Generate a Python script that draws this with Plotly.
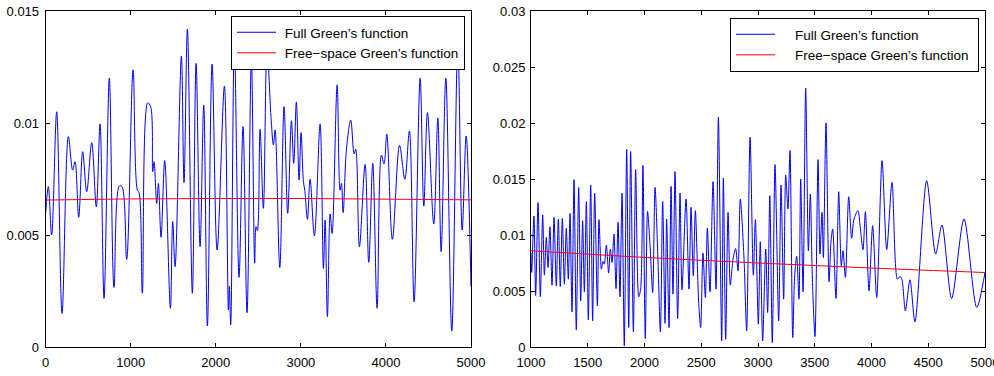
import plotly.graph_objects as go

# ---------------- Left panel data ----------------
left_x = [0, 31, 70, 129, 192, 266, 317, 345, 388, 435, 482, 541, 595, 639, 686, 748, 803, 866, 897, 952,
          1027, 1078, 1097, 1136, 1199, 1234, 1258, 1274, 1305, 1325, 1356, 1399, 1466, 1493, 1521, 1595,
          1626, 1666, 1724, 1768, 1815, 1858, 1901, 1956, 2015, 2101, 2148, 2159, 2175, 2218, 2273, 2320,
          2367, 2418, 2457, 2473, 2489, 2520, 2559, 2602, 2648, 2677, 2697, 2752, 2802, 2845, 2889, 2916,
          2947, 2979, 3002, 3030, 3046, 3077, 3108, 3159, 3226, 3265, 3285, 3312, 3344, 3367, 3426, 3461,
          3477, 3497, 3535, 3586, 3626, 3645, 3688, 3755, 3798, 3845, 3896, 3947, 3978, 4010, 4076, 4160,
          4222, 4276, 4331, 4402, 4445, 4488, 4562, 4610, 4649, 4704, 4774, 4845, 4896, 4943, 5000]
left_full = [6.0, 7.16, 5.0, 10.5, 1.5, 9.39, 7.9, 8.27, 5.79, 8.72, 6.93, 9.12, 6.26, 9.96, 2.17, 12.0, 2.66,
             7.19, 7.16, 3.91, 12.37, 7.0, 6.9, 2.4, 10.9, 10.73, 7.83, 8.27, 6.41, 7.3, 4.9, 8.32, 1.73, 5.6,
             3.59, 12.99, 7.34, 14.2, 2.4, 12.66, 4.48, 10.8, 0.94, 12.63, 4.33, 11.65, 1.65, 2.72, 0.98,
             13.56, 3.11, 9.84, 1.53, 12.89, 3.74, 5.37, 5.2, 9.72, 6.19, 13.41, 10.3, 9.02, 9.69, 3.55,
             10.73, 5.97, 10.1, 8.2, 10.94, 7.46, 9.57, 7.38, 7.0, 5.7, 7.49, 4.96, 9.96, 3.51, 5.67, 1.35,
             5.94, 5.07, 11.7, 7.0, 7.3, 6.0, 8.79, 10.13, 8.62, 8.83, 4.48, 8.15, 3.78, 8.2, 1.73, 8.57,
             8.17, 9.51, 4.81, 9.0, 7.49, 9.64, 2.02, 12.0, 6.29, 10.46, 5.49, 10.22, 4.26, 12.0, 0.71, 13.5,
             5.22, 9.42, 2.69]
left_free_x = [0, 1000, 2000, 3000, 4000, 5000]
left_free = [6.56, 6.61, 6.63, 6.63, 6.60, 6.57]

# ---------------- Right panel data ----------------
right_x = [1000, 1006, 1026, 1041, 1062, 1082, 1103, 1118, 1135, 1150, 1167, 1185, 1203, 1223, 1241, 1258,
           1276, 1294, 1311, 1329, 1344, 1361, 1379, 1399, 1420, 1438, 1455, 1470, 1488, 1505, 1526, 1543,
           1561, 1585, 1599, 1620, 1634, 1646, 1664, 1684, 1699, 1714, 1731, 1749, 1767, 1784, 1802, 1822,
           1843, 1861, 1878, 1902, 1922, 1949, 1966, 1986, 2007, 2027, 2049, 2072, 2093, 2116, 2140, 2160,
           2181, 2195, 2216, 2234, 2251, 2269, 2292, 2313, 2330, 2366, 2392, 2410, 2430, 2448, 2477, 2495,
           2515, 2536, 2554, 2577, 2604, 2630, 2651, 2680, 2695, 2715, 2736, 2756, 2780, 2803, 2824, 2844,
           2877, 2900, 2930, 2959, 2977, 3003, 3020, 3041, 3068, 3085, 3104, 3126, 3150, 3182, 3203, 3226,
           3244, 3264, 3282, 3306, 3323, 3341, 3361, 3376, 3397, 3420, 3444, 3461, 3479, 3502, 3529, 3546,
           3564, 3576, 3599, 3626, 3643, 3658, 3687, 3711, 3734, 3749, 3770, 3799, 3825, 3846, 3881, 3899,
           3925, 3946, 3978, 4010, 4046, 4093, 4134, 4181, 4228, 4251, 4269, 4298, 4339, 4383, 4486, 4565,
           4621, 4706, 4815, 4927, 5000]
right_full = [8.4, 6.66, 11.7, 4.6, 12.9, 4.5, 11.78, 6.42, 9.79, 7.1, 10.74, 5.52, 11.57, 5.46, 11.42, 5.4,
              11.48, 5.61, 10.59, 6.06, 11.93, 3.14, 14.94, 1.53, 14.23, 4.12, 11.28, 4.93, 12.98, 2.42, 14.47,
              2.33, 13.72, 3.67, 11.37, 6.95, 7.64, 7.4, 9.1, 6.6, 8.74, 7.55, 10.08, 5.22, 11.13, 4.48, 13.75,
              0.1, 17.63, 1.74, 17.45, 1.35, 15.84, 4.48, 5.17, 16.2, 0.75, 12.11, 9.04, 4.87, 14.26, 8.59,
              1.35, 12.98, 2.12, 11.43, 1.74, 14.35, 4.72, 15.66, 2.54, 13.75, 5.11, 13.21, 5.17, 12.47, 6.36,
              12.17, 4.03, 1.74, 8.38, 4.42, 10.62, 4.93, 14.76, 5.17, 20.52, 0.54, 15.09, 0.69, 12.02, 5.52,
              7.85, 8.8, 6.8, 13.21, 7.85, 1.44, 18.73, 6.42, 11.37, 2.04, 9.4, 0.54, 8.74, 3.08, 13.51, 0.4,
              16.28, 2.33, 14.47, 4.27, 15.36, 12.32, 17.54, 0.84, 6.36, 8.09, 4.27, 15.0, 4.93, 23.1, 8.59,
              13.66, 6.06, 0.93, 16.73, 8.3, 12.02, 7.99, 20.01, 5.82, 9.4, 10.53, 4.33, 13.87, 7.25, 8.59,
              6.21, 13.42, 9.7, 11.43, 12.17, 10.83, 8.68, 12.08, 5.02, 10.83, 4.42, 16.64, 8.7, 14.7, 6.06,
              6.3, 6.0, 3.23, 6.0, 2.24, 14.85, 8.3, 10.89, 4.33, 11.43, 3.53, 6.66]
right_free_x = [1000, 2000, 3000, 4000, 5000]
right_free = [8.6, 8.0, 7.5, 7.05, 6.65]

left_yticks = [0, 0.005, 0.01, 0.015]
left_yticklabels = ["0", "0.005", "0.01", "0.015"]
right_yticks = [0, 0.005, 0.01, 0.015, 0.02, 0.025, 0.03]
right_yticklabels = ["0", "0.005", "0.01", "0.015", "0.02", "0.025", "0.03"]
left_xticks = [0, 1000, 2000, 3000, 4000, 5000]
right_xticks = [1000, 1500, 2000, 2500, 3000, 3500, 4000, 4500, 5000]

name_full = "Full Green\u2019s function"
name_free = "Free\u2212space Green\u2019s function"
NB = "\u00a0"

scale = 1e-3
BLUE = "rgb(0,0,255)"
RED = "rgb(255,0,0)"
FONT = "Liberation Sans, Arial, Helvetica, sans-serif"

fig = go.Figure()
fig.add_trace(go.Scatter(x=left_x, y=[v * scale for v in left_full], mode="lines",
                         line=dict(color=BLUE, width=1, shape="spline", smoothing=1.0),
                         name=NB + name_full, xaxis="x", yaxis="y", legend="legend"))
fig.add_trace(go.Scatter(x=left_free_x, y=[v * scale for v in left_free], mode="lines",
                         line=dict(color=RED, width=1, shape="spline"),
                         name=NB + name_free, xaxis="x", yaxis="y", legend="legend"))
fig.add_trace(go.Scatter(x=right_x, y=[v * scale for v in right_full], mode="lines",
                         line=dict(color=BLUE, width=1, shape="spline", smoothing=0.8),
                         name=NB * 4 + name_full, xaxis="x2", yaxis="y2", legend="legend2"))
fig.add_trace(go.Scatter(x=right_free_x, y=[v * scale for v in right_free], mode="lines",
                         line=dict(color=RED, width=1, shape="spline"),
                         name=NB * 4 + name_free + NB, xaxis="x2", yaxis="y2", legend="legend2"))

axis_common = dict(showline=True, linecolor="black", linewidth=1, mirror="ticks", ticks="inside",
                   ticklen=4, tickcolor="black", showgrid=False, zeroline=False, automargin=False,
                   ticklabeloverflow="allow",
                   tickfont=dict(family=FONT, size=13, color="black"))

W, H = 994, 376
ydom = [1 - 347 / H, 1 - 11 / H]
legend_font = dict(family=FONT, size=13.5, color="black")
fig.update_layout(
    width=W, height=H,
    margin=dict(l=0, r=0, t=0, b=0, autoexpand=False),
    paper_bgcolor="white", plot_bgcolor="white",
    font=dict(family=FONT, size=13, color="black"),
    xaxis=dict(domain=[45.7 / W, 471 / W], range=[0, 5000], tickvals=left_xticks,
               anchor="y", ticklabelstandoff=3, **axis_common),
    yaxis=dict(domain=ydom, range=[0, 0.015], tickvals=left_yticks, ticktext=left_yticklabels,
               anchor="x", ticklabelstandoff=3, **axis_common),
    xaxis2=dict(domain=[531 / W, 985 / W], range=[1000, 5000], tickvals=right_xticks,
                anchor="y2", ticklabelstandoff=3, **axis_common),
    yaxis2=dict(domain=ydom, range=[0, 0.03], tickvals=right_yticks, ticktext=right_yticklabels,
                anchor="x2", ticklabelstandoff=2, **axis_common),
    legend=dict(x=465 / W, xanchor="right", y=1 - 16 / H, yanchor="top",
                bordercolor="black", borderwidth=1, bgcolor="white", itemwidth=39,
                font=legend_font, tracegroupgap=0),
    legend2=dict(x=979 / W, xanchor="right", y=1 - 18 / H, yanchor="top",
                 bordercolor="black", borderwidth=1, bgcolor="white", itemwidth=39,
                 font=legend_font, tracegroupgap=0),
    showlegend=True,
)

fig.write_html("out.html", config={"displayModeBar": False},
               post_script="document.body.style.margin='0px';")
